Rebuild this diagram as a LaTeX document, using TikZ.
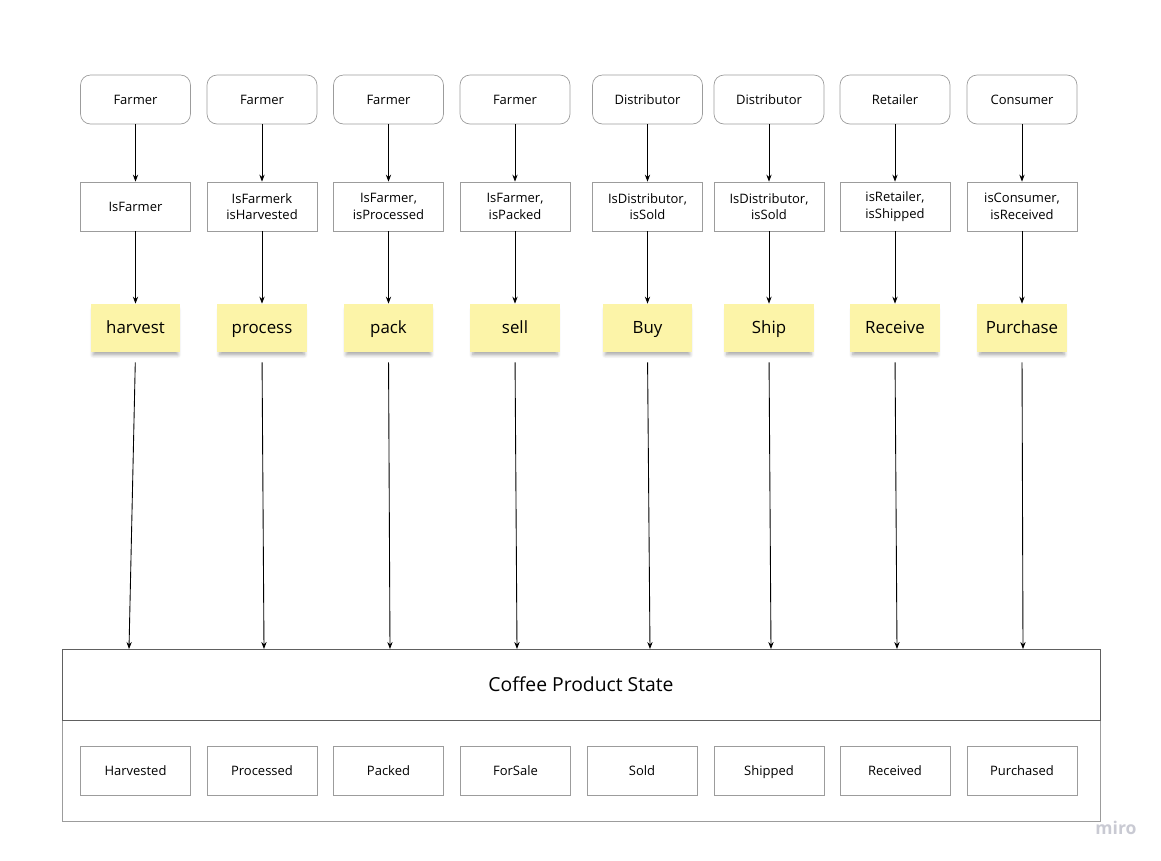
\documentclass[tikz,border=0pt]{standalone}
\usepackage{fontspec}
\setmainfont{Open Sans}
\usetikzlibrary{arrows.meta,positioning,shadows.blur}
\definecolor{sticky}{HTML}{FCF4A8}
\definecolor{boxline}{HTML}{9C9C9C}
\definecolor{frameline}{HTML}{606060}
\definecolor{brand}{HTML}{C9CAD3}

\begin{document}
\begin{tikzpicture}[x=0.02cm,y=-0.02cm,
  actor/.style={draw=boxline,rounded corners=0.2cm,minimum width=2.2cm,minimum height=0.98cm,
    text height=1.6ex,text depth=0.45ex,font=\fontsize{7.4}{9}\selectfont},
  guard/.style={draw=boxline,minimum width=2.2cm,minimum height=0.98cm,align=center,font=\fontsize{7.4}{9.4}\selectfont},
  note/.style={fill=sticky,minimum width=1.8cm,minimum height=0.96cm,text height=1.6ex,text depth=0.45ex,
    font=\fontsize{9.6}{11}\selectfont,
    blur shadow={shadow xshift=0pt,shadow yshift=-2.6pt,shadow scale=0.94,shadow opacity=35,shadow blur steps=6}},
  statebox/.style={draw=boxline,minimum width=2.2cm,minimum height=0.98cm,
    text height=1.6ex,text depth=0.45ex,font=\fontsize{7.4}{9}\selectfont},
  flow/.style={-{Stealth[length=4pt,width=3pt]},line width=0.5pt,black}]
  \useasboundingbox (0,0) rectangle (1161,860);

  % Product state container
  \node[draw=boxline,minimum width=20.76cm,minimum height=2.02cm] (states) at (581,770.5) {};
  \node[draw=frameline,minimum width=20.76cm,minimum height=1.42cm,font=\fontsize{11}{13}\selectfont] (product) at (581,684.5) {Coffee Product State};

  % One column per step
  \foreach \i/\x/\role/\cond/\fn/\st/\sx/\ex in {
      1/135.5/Farmer/IsFarmer/harvest/Harvested/135.5/129,
      2/262/Farmer/{IsFarmerk\\isHarvested}/process/Processed/262/264,
      3/388.5/Farmer/{IsFarmer,\\isProcessed}/pack/Packed/388.5/390,
      4/515/Farmer/{IsFarmer,\\isPacked}/sell/ForSale/515.5/517,
      5/647.5/Distributor/{IsDistributor,\\isSold}/Buy/Sold/642/650,
      6/769/Distributor/{IsDistributor,\\isSold}/Ship/Shipped/769/771,
      7/895/Retailer/{isRetailer,\\isShipped}/Receive/Received/895/897,
      8/1022/Consumer/{isConsumer,\\isReceived}/Purchase/Purchased/1022/1023} {
    \node[actor] (actor\i) at (\x,99.5) {\role};
    \node[guard] (guard\i) at (\x,206.5) {\cond};
    \node[note] (fn\i) at (\x,328) {\fn};
    \node[statebox] (state\i) at (\sx,770.5) {\st};
    \coordinate (in\i) at (\ex,649);
    \draw[flow] (actor\i) -- (guard\i);
    \draw[flow] (guard\i) -- (fn\i);
    \draw[flow,shorten <=0.2cm] (fn\i.south) -- (in\i);
  }

  \node[brand,font=\fontsize{10}{12}\selectfont\bfseries] (logo) at (1116,828) {miro};
\end{tikzpicture}
\end{document}
